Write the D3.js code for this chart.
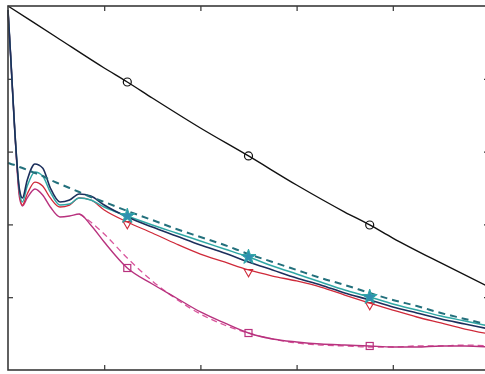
<!DOCTYPE html>
<html>
<head>
<meta charset="utf-8">
<script src="https://cdn.jsdelivr.net/npm/d3@7"></script>
<style>
  body { margin: 0; background: #fff; }
  .axis path { display: none; }
  .axis line { stroke: #333; stroke-width: 1.2; }
</style>
</head>
<body>
<div id="chart"></div>
<script>
// shared x samples for the coloured curves
var xs = [0, 0.03, 0.07, 0.12, 0.15, 0.2, 0.28, 0.36, 0.44, 0.54, 0.64, 0.74, 0.86, 1.0, 1.24,
          1.5, 1.75, 2.0, 2.25, 2.5, 2.75, 3.0, 3.25, 3.5, 3.76, 4.0, 4.25, 4.5, 4.75, 5.0];

var navy = [4.945, 4.258, 3.297, 2.473, 2.363, 2.610, 2.830, 2.775, 2.500, 2.308, 2.335, 2.418, 2.390, 2.266, 2.102,
            1.964, 1.841, 1.717, 1.607, 1.484, 1.374, 1.264, 1.168, 1.058, 0.962, 0.865, 0.783, 0.701, 0.632, 0.563];
var teal = [4.945, 4.258, 3.297, 2.445, 2.308, 2.527, 2.720, 2.665, 2.445, 2.266, 2.280, 2.363, 2.335, 2.239, 2.115,
            1.992, 1.882, 1.772, 1.662, 1.552, 1.429, 1.319, 1.209, 1.099, 1.003, 0.907, 0.824, 0.742, 0.673, 0.604];
var tealDash = [2.843, 2.830, 2.816, 2.788, 2.775, 2.747, 2.706, 2.665, 2.610, 2.555, 2.500, 2.445, 2.376, 2.308, 2.184,
                2.060, 1.937, 1.827, 1.717, 1.593, 1.484, 1.374, 1.264, 1.168, 1.058, 0.962, 0.879, 0.783, 0.701, 0.618];
var red = [4.945, 4.258, 3.297, 2.404, 2.266, 2.418, 2.582, 2.527, 2.363, 2.239, 2.266, 2.363, 2.335, 2.198, 2.033,
           1.882, 1.731, 1.593, 1.484, 1.374, 1.291, 1.223, 1.140, 1.030, 0.920, 0.824, 0.728, 0.646, 0.563, 0.495];
var magenta = [4.945, 4.258, 3.297, 2.363, 2.253, 2.363, 2.486, 2.404, 2.239, 2.102, 2.115, 2.143, 1.992, 1.758, 1.401,
               1.181, 0.989, 0.797, 0.646, 0.508, 0.426, 0.385, 0.357, 0.343, 0.330, 0.316, 0.316, 0.330, 0.330, 0.316];
var magentaDash = [null, null, null, null, null, null, null, null, null, null, null, 2.143, 2.033, 1.868, 1.538,
                   1.223, 0.975, 0.769, 0.618, 0.508, 0.426, 0.371, 0.343, 0.330, 0.316, 0.316, 0.330, 0.330, 0.343, 0.330];

// black reference line has its own samples
var blackX = [0, 0.5, 1.0, 1.24, 1.5, 2.0, 2.5, 3.0, 3.5, 3.76, 4.0, 4.5, 5.0];
var blackY = [5.0, 4.574, 4.148, 3.956, 3.736, 3.324, 2.940, 2.541, 2.170, 1.992, 1.813, 1.470, 1.140];

var markX = [1.24, 2.5, 3.76];   // where markers sit
var xTicks = [1, 2, 3, 4];
var yTicks = [1, 2, 3, 4];

var W = 485, H = 374;
var box = {left: 8, top: 6, right: 489, bottom: 370};

var x = d3.scaleLinear().domain([0, 5]).range([box.left, box.right]);
var y = d3.scaleLinear().domain([0, 5]).range([box.bottom, box.top]);

var svg = d3.select("#chart").append("svg")
  .attr("width", W).attr("height", H);

svg.append("rect").attr("width", W).attr("height", H).attr("fill", "#fff");

// ticks on all four sides, pointing inward
svg.append("g").attr("class", "axis")
  .attr("transform", "translate(0," + box.bottom + ")")
  .call(d3.axisBottom(x).tickValues(xTicks).tickSize(-5).tickFormat(""));
svg.append("g").attr("class", "axis")
  .attr("transform", "translate(0," + box.top + ")")
  .call(d3.axisTop(x).tickValues(xTicks).tickSize(-5).tickFormat(""));
svg.append("g").attr("class", "axis")
  .attr("transform", "translate(" + box.left + ",0)")
  .call(d3.axisLeft(y).tickValues(yTicks).tickSize(-5).tickFormat(""));
svg.append("g").attr("class", "axis")
  .attr("transform", "translate(" + box.right + ",0)")
  .call(d3.axisRight(y).tickValues(yTicks).tickSize(-5).tickFormat(""));

var series = [
  {ys: magentaDash, color: "#d9559c", width: 1.3, dash: "6,4"},
  {ys: magenta, color: "#b8327e", width: 1.4, dash: null},
  {ys: red, color: "#cf2a3a", width: 1.3, dash: null},
  {ys: teal, color: "#2fa7a5", width: 1.5, dash: null},
  {ys: navy, color: "#1c2f5c", width: 1.6, dash: null},
  {ys: tealDash, color: "#23707c", width: 2, dash: "7,5"}
];

var line = d3.line()
  .defined(function(d) { return d[1] != null; })
  .x(function(d) { return x(d[0]); })
  .y(function(d) { return y(d[1]); })
  .curve(d3.curveMonotoneX);

series.forEach(function(s) {
  svg.append("path")
    .datum(xs.map(function(v, i) { return [v, s.ys[i]]; }))
    .attr("d", line)
    .attr("fill", "none")
    .attr("stroke", s.color)
    .attr("stroke-width", s.width)
    .attr("stroke-dasharray", s.dash);
});

svg.append("path")
  .datum(blackX.map(function(v, i) { return [v, blackY[i]]; }))
  .attr("d", line)
  .attr("fill", "none")
  .attr("stroke", "#111")
  .attr("stroke-width", 1.4);

function valAt(xArr, yArr, v) { return yArr[xArr.indexOf(v)]; }

// markers
markX.forEach(function(v) {
  svg.append("circle")
    .attr("cx", x(v)).attr("cy", y(valAt(blackX, blackY, v)))
    .attr("r", 4).attr("fill", "none").attr("stroke", "#111").attr("stroke-width", 1.2);

  svg.append("rect")
    .attr("x", x(v) - 3.5).attr("y", y(valAt(xs, magenta, v)) - 3.5)
    .attr("width", 7).attr("height", 7)
    .attr("fill", "none").attr("stroke", "#b8327e").attr("stroke-width", 1.2);

  svg.append("path")
    .attr("transform", "translate(" + x(v) + "," + y(valAt(xs, red, v)) + ")")
    .attr("d", d3.symbol().type(d3.symbolTriangle).size(30)())
    .attr("transform", "translate(" + x(v) + "," + (y(valAt(xs, red, v)) + 2) + ") rotate(180)")
    .attr("fill", "none").attr("stroke", "#cf2a3a").attr("stroke-width", 1.1);

  svg.append("path")
    .attr("transform", "translate(" + x(v) + "," + y(valAt(xs, teal, v)) + ")")
    .attr("d", d3.symbol().type(d3.symbolStar).size(70)())
    .attr("fill", "#2f8fb0").attr("stroke", "#2fa7a5").attr("stroke-width", 1);
});

// frame
svg.append("rect")
  .attr("x", box.left).attr("y", box.top)
  .attr("width", box.right - box.left).attr("height", box.bottom - box.top)
  .attr("fill", "none").attr("stroke", "#3a3a3a").attr("stroke-width", 1.6);
</script>
</body>
</html>
